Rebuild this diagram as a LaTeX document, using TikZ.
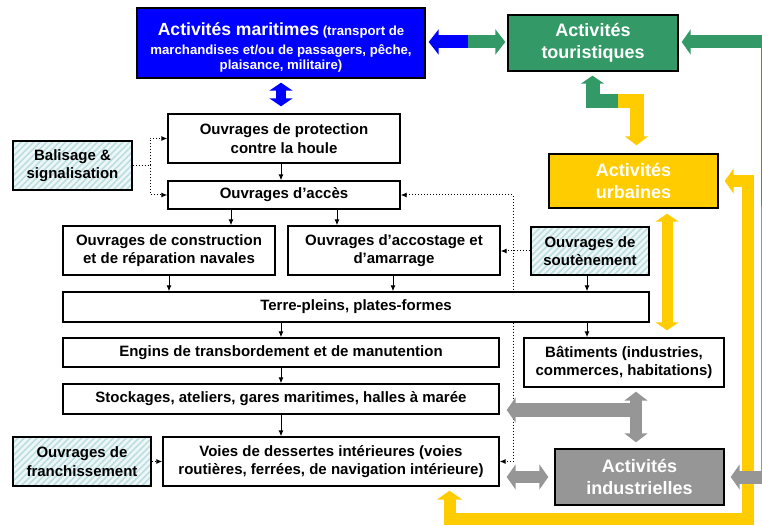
\documentclass[tikz,border=0pt]{standalone}
\usepackage{fontspec}
\setmainfont{Liberation Sans}
\usetikzlibrary{arrows.meta,patterns.meta}

\definecolor{mblue}{RGB}{0,0,255}
\definecolor{mgreen}{RGB}{51,153,102}
\definecolor{myellow}{RGB}{255,204,0}
\definecolor{mgray}{RGB}{150,150,150}
\definecolor{hatchbg}{RGB}{238,247,247}
\definecolor{hatchln}{RGB}{188,222,224}

\tikzset{
  box/.style={draw=black, line width=1.4pt, fill=white, inner sep=0pt, align=center,
    font=\bfseries\fontsize{15}{18.5}\selectfont},
  hatchbox/.style={draw=black, line width=1.4pt, inner sep=0pt, align=center,
    font=\bfseries\fontsize{15}{18.5}\selectfont,
    preaction={fill=hatchbg},
    pattern={Lines[angle=45,distance=4.5pt,line width=1.6pt]}, pattern color=hatchln},
  colbox/.style={draw=black, line width=1.4pt, inner sep=0pt, align=center, text=white,
    font=\bfseries\fontsize{18}{22}\selectfont},
  arr/.style={line width=1pt, -{Latex[length=6pt,width=5pt]}},
  dotarr/.style={line width=1pt, dotted, -{Latex[length=6pt,width=5pt]}},
  dotarrb/.style={line width=1pt, dotted, {Latex[length=6pt,width=5pt]}-},
  dotline/.style={line width=1pt, dotted},
  bhead/.style={-{Triangle[width=25pt,length=10pt]}},
}

\begin{document}
\begin{tikzpicture}[x=1pt,y=-1pt]
\useasboundingbox (0,0) rectangle (762,526);
\clip (0,0) rectangle (762,526);

% colored boxes
\node[colbox, fill=mblue, minimum width=288pt, minimum height=70pt,
  font=\bfseries\fontsize{13.2}{15}\selectfont] (maritime) at (281,43)
  {\rule{0pt}{22pt}{\fontsize{17.6}{20}\selectfont Activités maritimes} (transport de\\[4pt]
   marchandises et/ou de passagers, pêche,\\ plaisance, militaire)};
\node[colbox, fill=mgreen, minimum width=170pt, minimum height=56pt] (tourist) at (593,43)
  {Activités\\touristiques};
\node[colbox, fill=myellow, minimum width=169pt, minimum height=54pt] (urbaines) at (633.5,181)
  {Activités\\urbaines};
\node[colbox, fill=mgray, minimum width=169pt, minimum height=56pt] (indus) at (639.5,477)
  {Activités\\industrielles};

% white boxes
\node[box, minimum width=232pt, minimum height=49pt] (protection) at (284,138.5)
  {Ouvrages de protection\\contre la houle};
\node[box, minimum width=232pt, minimum height=28pt] (acces) at (284,195)
  {Ouvrages d’accès};
\node[box, minimum width=212pt, minimum height=49pt] (construction) at (169,250.5)
  {Ouvrages de construction\\et de réparation navales};
\node[box, minimum width=212pt, minimum height=49pt] (accostage) at (394,250.5)
  {Ouvrages d’accostage et\\d’amarrage};
\node[box, minimum width=586pt, minimum height=30pt] (terre) at (356,307)
  {Terre-pleins, plates-formes};
\node[box, minimum width=436pt, minimum height=29pt] (engins) at (281,352.5)
  {Engins de transbordement et de manutention};
\node[box, minimum width=200pt, minimum height=49pt] (batiments) at (624,362.5)
  {Bâtiments (industries,\\commerces, habitations)};
\node[box, minimum width=436pt, minimum height=30pt] (stockages) at (281,399)
  {Stockages, ateliers, gares maritimes, halles à marée};
\node[box, minimum width=336pt, minimum height=49pt] (voies) at (331,461.5)
  {Voies de dessertes intérieures (voies\\routières, ferrées, de navigation intérieure)};

% hatched boxes
\node[hatchbox, minimum width=118pt, minimum height=48pt] (soutenement) at (590,251)
  {Ouvrages de\\soutènement};
\node[hatchbox, minimum width=138pt, minimum height=49pt] (franch) at (82,461.5)
  {Ouvrages de\\franchissement};
\node[hatchbox, minimum width=119pt, minimum height=49pt] (balisage) at (72.5,165.5)
  {Balisage \&\\signalisation};

% black arrows
\draw[arr] (281,0 |- protection.south) -- (281,0 |- acces.north);
\draw[arr] (231,0 |- acces.south) -- (231,0 |- construction.north);
\draw[arr] (337,0 |- acces.south) -- (337,0 |- accostage.north);
\draw[arr] (169,0 |- construction.south) -- (169,0 |- terre.north);
\draw[arr] (393,0 |- accostage.south) -- (393,0 |- terre.north);
\draw[arr] (587,0 |- soutenement.south) -- (587,0 |- terre.north);
\draw[arr] (281,0 |- terre.south) -- (281,0 |- engins.north);
\draw[arr] (587,0 |- terre.south) -- (587,0 |- batiments.north);
\draw[arr] (281,0 |- engins.south) -- (281,0 |- stockages.north);
\draw[arr] (281,0 |- stockages.south) -- (281,0 |- voies.north);

% dotted connectors
\coordinate (bj) at (150,165.5);
\draw[dotline] (balisage.east) -- (bj);
\draw[dotarr] (bj) |- (protection.west);
\draw[dotarr] (bj) |- (acces.west);
\draw[dotarr] (franch.east) -- (voies.west);
\draw[dotarr] (soutenement.west) -- (soutenement.west -| accostage.east);
\coordinate (dtop) at (513,195);
\coordinate (dbot) at (513,461.5);
\draw[dotarrb] (acces.east) -- (dtop) -- (dtop |- terre.north);
\draw[dotarr] (dtop |- terre.south) -- (dbot) -- (voies.east);

% blue / green double arrow
\coordinate (bg) at (468,42);
\draw[mblue, line width=13pt, bhead, shorten >=3pt] (bg) -- (maritime.east |- bg);
\draw[mgreen, line width=13pt, bhead, shorten >=2pt] (bg) -- (tourist.west |- bg);

% blue vertical double arrow
\draw[mblue, line width=10pt, {Triangle[width=23pt,length=8pt]}-{Triangle[width=23pt,length=8pt]},
  shorten <=4pt, shorten >=7pt] (maritime.south) -- (maritime.south |- protection.north);

% green / yellow L arrow
\coordinate (gy) at (618,101);
\coordinate (gyg) at (592.5,101);
\coordinate (gyy) at (636.5,101);
\draw[mgreen, line width=14pt, -{Triangle[width=23pt,length=8pt]}, shorten >=4pt]
  (gy) -- (gyg) -- (gyg |- tourist.south);
\draw[myellow, line width=14pt, -{Triangle[width=23pt,length=9pt]}, shorten >=8pt]
  (gy) -- (gyy) -- (gyy |- urbaines.north);

% yellow double arrow urbaines - batiments
\draw[myellow, line width=11pt, {Triangle[width=23pt,length=8pt]}-{Triangle[width=23pt,length=8pt]},
  shorten <=5pt, shorten >=7pt] (667,0 |- urbaines.south) -- (667,0 |- batiments.north);

% big yellow loop
\coordinate (yc1) at (748,181);
\coordinate (yc2) at (748,519);
\coordinate (yc3) at (449.5,519);
\draw[myellow, line width=12pt, {Triangle[width=25pt,length=9pt]}-{Triangle[width=25pt,length=9pt]},
  shorten <=6pt, shorten >=4pt]
  (urbaines.east |- yc1) -- (yc1) -- (yc2) -- (yc3) -- (yc3 |- voies.south);

% gray arrows
\coordinate (gv) at (636,410);
\draw[mgray, line width=12pt, {Triangle[width=23pt,length=9pt]}-{Triangle[width=23pt,length=9pt]},
  shorten <=4pt, shorten >=6pt] (636,0 |- batiments.south) -- (636,0 |- indus.north);
\draw[mgray, line width=14pt, -{Triangle[width=25pt,length=9pt]}, shorten >=7pt]
  (gv) -- (gv -| stockages.east);
\draw[mgray, line width=12pt, {Triangle[width=25pt,length=9pt]}-{Triangle[width=25pt,length=9pt]},
  shorten <=7pt, shorten >=6pt] (voies.east |- indus.west) -- (indus.west);

% right edge connectors (partly outside the picture)
\coordinate (rg1) at (767.5,42);
\coordinate (rg2) at (767.5,206);
\coordinate (rg3) at (767.5,477);
\draw[mgreen, line width=13pt, {Triangle[width=25pt,length=9pt]}-, shorten <=3pt]
  (tourist.east |- rg1) -- (rg1) -- (rg2);
\draw[mgray, line width=13pt, -{Triangle[width=25pt,length=9pt]}, shorten >=6pt]
  (rg2) -- (rg3) -- (indus.east |- rg3);
\end{tikzpicture}
\end{document}
